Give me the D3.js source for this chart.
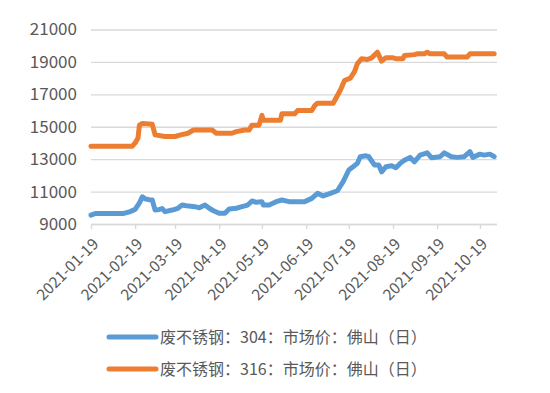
<!DOCTYPE html>
<html>
<head>
<meta charset="utf-8">
<script src="https://cdn.jsdelivr.net/npm/d3@7"></script>
<style>
  body { margin: 0; background: #fff; }
  svg text { font-family: "Noto Sans CJK SC", "Noto Sans", sans-serif; fill: #595959; }
</style>
</head>
<body>
<div id="chart"></div>
<script>
// 废不锈钢 304 (blue)
const dates304 = ["2021-01-19","2021-01-22","2021-02-11","2021-02-15","2021-02-19","2021-02-22","2021-02-24","2021-02-26","2021-03-01","2021-03-03","2021-03-05","2021-03-08","2021-03-10","2021-03-12","2021-03-17","2021-03-21","2021-03-24","2021-03-27","2021-04-02","2021-04-05","2021-04-09","2021-04-12","2021-04-15","2021-04-19","2021-04-23","2021-04-26","2021-05-01","2021-05-05","2021-05-09","2021-05-12","2021-05-15","2021-05-19","2021-05-20","2021-05-24","2021-05-29","2021-06-02","2021-06-07","2021-06-18","2021-06-23","2021-06-27","2021-07-01","2021-07-06","2021-07-11","2021-07-15","2021-07-19","2021-07-22","2021-07-25","2021-07-27","2021-07-31","2021-08-02","2021-08-06","2021-08-09","2021-08-11","2021-08-14","2021-08-18","2021-08-21","2021-08-24","2021-08-27","2021-08-31","2021-09-03","2021-09-07","2021-09-12","2021-09-15","2021-09-21","2021-09-24","2021-09-29","2021-10-03","2021-10-08","2021-10-12","2021-10-14","2021-10-19","2021-10-22","2021-10-26","2021-10-29"];
const values304 = [9550,9650,9650,9750,9900,10300,10680,10550,10500,10480,9860,9900,9950,9760,9860,9970,10170,10130,10070,10000,10170,9970,9820,9660,9660,9920,9970,10070,10170,10420,10340,10380,10170,10170,10380,10480,10380,10380,10580,10890,10730,10890,11050,11610,12330,12530,12740,13150,13210,13150,12640,12640,12220,12530,12590,12470,12740,12940,13110,12840,13250,13390,13090,13150,13390,13150,13110,13150,13460,13110,13310,13250,13310,13150];

// 废不锈钢 316 (orange)
const dates316 = ["2021-01-19","2021-02-17","2021-02-19","2021-02-21","2021-02-22","2021-02-24","2021-03-03","2021-03-05","2021-03-12","2021-03-19","2021-03-23","2021-03-28","2021-04-01","2021-04-14","2021-04-17","2021-04-28","2021-05-01","2021-05-07","2021-05-10","2021-05-12","2021-05-17","2021-05-19","2021-05-20","2021-06-01","2021-06-02","2021-06-11","2021-06-13","2021-06-23","2021-06-25","2021-06-27","2021-07-08","2021-07-13","2021-07-16","2021-07-20","2021-07-23","2021-07-25","2021-07-28","2021-08-01","2021-08-04","2021-08-08","2021-08-11","2021-08-14","2021-08-19","2021-08-21","2021-08-26","2021-08-27","2021-09-03","2021-09-05","2021-09-10","2021-09-12","2021-09-14","2021-09-24","2021-09-26","2021-10-10","2021-10-12","2021-10-29"];
const values316 = [13800,13800,14000,14300,15100,15200,15150,14500,14400,14400,14500,14600,14800,14800,14600,14600,14700,14800,14800,15100,15100,15700,15400,15400,15800,15800,16000,16000,16300,16450,16450,17250,17850,18000,18400,18900,19200,19150,19250,19600,19050,19250,19250,19200,19200,19400,19450,19500,19500,19600,19500,19500,19300,19300,19500,19500];

const xTickLabels = ["2021-01-19","2021-02-19","2021-03-19","2021-04-19","2021-05-19","2021-06-19","2021-07-19","2021-08-19","2021-09-19","2021-10-19"];
const yTicks = [9000,11000,13000,15000,17000,19000,21000];
const seriesNames = ["废不锈钢：304：市场价：佛山（日）", "废不锈钢：316：市场价：佛山（日）"];
const colors = ["#5b9bd5", "#ed7d31"];

const w = 550, h = 393;
const plot = { left: 91, right: 497, top: 29.5, bottom: 224 };
const parse = d3.timeParse("%Y-%m-%d");

const svg = d3.select("#chart").append("svg").attr("width", w).attr("height", h);

const x = d3.scaleTime()
  .domain([parse("2021-01-19"), parse("2021-10-31")])
  .range([plot.left, plot.right]);
const y = d3.scaleLinear().domain([9000, 21000]).range([plot.bottom, plot.top]);

// gridlines + y labels
const yAxis = d3.axisLeft(y).tickValues(yTicks).tickSize(-(plot.right - plot.left)).tickPadding(14).tickFormat(d3.format("d"));
svg.append("g")
  .attr("transform", `translate(${plot.left},0)`)
  .call(yAxis)
  .call(g => g.select(".domain").remove())
  .call(g => g.selectAll("line").attr("stroke", "#d9d9d9").attr("stroke-width", 1.3))
  .call(g => g.selectAll("text").style("font-size", "17px").attr("fill", "#595959"));

// x axis
const xAxis = d3.axisBottom(x).tickValues(xTickLabels.map(parse)).tickSize(5).tickFormat(d3.timeFormat("%Y-%m-%d"));
svg.append("g")
  .attr("transform", `translate(0,${plot.bottom})`)
  .call(xAxis)
  .call(g => g.select(".domain").attr("stroke", "#d9d9d9").attr("stroke-width", 1.3).attr("d", `M${plot.left},0.5H${plot.right}`))
  .call(g => g.selectAll("line").attr("stroke", "#d9d9d9").attr("stroke-width", 1.3))
  .call(g => g.selectAll("text")
    .style("font-size", "15.5px")
    .attr("fill", "#595959")
    .attr("text-anchor", "end")
    .attr("y", 0).attr("dy", 0)
    .attr("transform", "translate(8,21) rotate(-45)"));

const line = d3.line().x(d => x(d[0])).y(d => y(d[1]));
const series = [
  dates304.map((d, i) => [parse(d), values304[i]]),
  dates316.map((d, i) => [parse(d), values316[i]])
];

series.forEach((s, i) => {
  svg.append("path")
    .datum(s)
    .attr("fill", "none")
    .attr("stroke", colors[i])
    .attr("stroke-width", 5)
    .attr("stroke-linejoin", "round")
    .attr("stroke-linecap", "round")
    .attr("d", line);
});

// legend
const legend = svg.append("g");
seriesNames.forEach((name, i) => {
  const ly = 337 + i * 32;
  legend.append("line")
    .attr("x1", 109).attr("x2", 156)
    .attr("y1", ly).attr("y2", ly)
    .attr("stroke", colors[i])
    .attr("stroke-width", 5)
    .attr("stroke-linecap", "round");
  legend.append("text")
    .attr("x", 160).attr("y", ly)
    .attr("dy", "0.36em")
    .style("font-size", "16px")
    .text(name);
});
</script>
</body>
</html>
